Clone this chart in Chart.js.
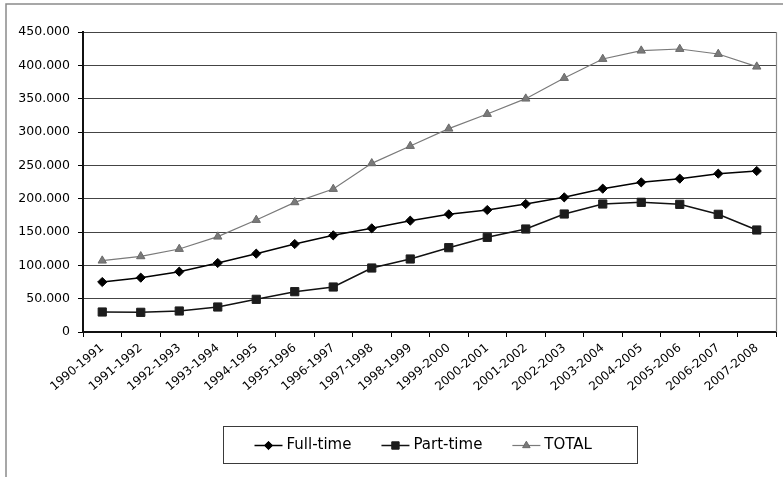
<!DOCTYPE html>
<html>
<head>
<meta charset="utf-8">
<script src="https://cdn.jsdelivr.net/npm/chart.js@4/dist/chart.umd.min.js"></script>
<style>
  html, body { margin: 0; padding: 0; background: #fff; }
  #wrap { width: 783px; height: 477px; position: relative; }
</style>
</head>
<body>
<div id="wrap"><canvas id="chart" width="783" height="477"></canvas></div>
<script>
// Academic years
const years = ['1990-1991', '1991-1992', '1992-1993', '1993-1994', '1994-1995', '1995-1996',
  '1996-1997', '1997-1998', '1998-1999', '1999-2000', '2000-2001', '2001-2002',
  '2002-2003', '2003-2004', '2004-2005', '2005-2006', '2006-2007', '2007-2008'];

// Enrolment counts per year
const fullTime = [75000, 81500, 90500, 103500, 117500, 132000, 145000, 155500, 167000,
  176500, 183000, 192000, 202000, 215000, 224500, 230000, 237500, 241500];
const partTime = [30000, 29500, 31500, 37500, 49000, 60500, 67500, 96000, 109500,
  126500, 142000, 154500, 177000, 192000, 194500, 191500, 176500, 153000];
const total = [107000, 113500, 124500, 143000, 168000, 194500, 214500, 253000, 279000,
  305000, 327000, 350000, 381000, 409500, 422000, 424500, 417000, 398000];

// Value axis range
const yMin = 0;
const yMax = 450000;
const yStep = 50000;

const seriesNames = ['Full-time', 'Part-time', 'TOTAL'];

const FONT = 'DejaVu Sans';

function fmtThousands(v) {
  return String(v).replace(/\B(?=(\d{3})+(?!\d))/g, '.');
}

// Marker drawing shared by the custom legend
function drawMarker(ctx, style, x, y, r, fill, stroke) {
  ctx.save();
  ctx.fillStyle = fill;
  ctx.strokeStyle = stroke;
  ctx.lineWidth = 1;
  ctx.beginPath();
  if (style === 'rectRot') {
    ctx.moveTo(x, y - r); ctx.lineTo(x + r, y); ctx.lineTo(x, y + r); ctx.lineTo(x - r, y);
  } else if (style === 'rect') {
    const s = r * Math.SQRT1_2;
    ctx.rect(x - s, y - s, 2 * s, 2 * s);
  } else if (style === 'triangle') {
    const w = r * Math.sin(Math.PI / 3);
    ctx.moveTo(x, y - r); ctx.lineTo(x + w, y + r / 2); ctx.lineTo(x - w, y + r / 2);
  }
  ctx.closePath();
  ctx.fill();
  ctx.stroke();
  ctx.restore();
}

// Outer frame, plot border and boxed legend
const decorations = {
  id: 'decorations',
  beforeDraw(chart) {
    const ctx = chart.ctx;
    ctx.save();
    ctx.fillStyle = '#fff';
    ctx.fillRect(0, 0, chart.width, chart.height);
    ctx.strokeStyle = '#8a8a8a';
    ctx.lineWidth = 1.5;
    ctx.beginPath();
    ctx.moveTo(6, chart.height);
    ctx.lineTo(6, 4);
    ctx.lineTo(chart.width, 4);
    ctx.stroke();
    ctx.restore();
  },
  afterDraw(chart) {
    const ctx = chart.ctx;
    const a = chart.chartArea;
    ctx.save();
    // right edge of plot area
    ctx.strokeStyle = '#8a8a8a';
    ctx.lineWidth = 1.2;
    ctx.beginPath();
    ctx.moveTo(a.right + 0.5, a.top);
    ctx.lineTo(a.right + 0.5, a.bottom);
    ctx.stroke();

    // legend box
    const bx = 223.5, by = 426.5, bw = 414, bh = 37;
    ctx.fillStyle = '#fff';
    ctx.fillRect(bx, by, bw, bh);
    ctx.strokeStyle = '#3a3a3a';
    ctx.lineWidth = 1;
    ctx.strokeRect(bx, by, bw, bh);

    ctx.font = '15px "' + FONT + '"';
    ctx.textBaseline = 'middle';
    ctx.textAlign = 'left';
    const cy = by + bh / 2 + 0.5;
    let x = bx + 31;
    chart.data.datasets.forEach((ds) => {
      ctx.strokeStyle = ds.borderColor;
      ctx.lineWidth = ds.borderWidth;
      ctx.beginPath();
      ctx.moveTo(x, cy);
      ctx.lineTo(x + 28, cy);
      ctx.stroke();
      drawMarker(ctx, ds.pointStyle, x + 14, cy, ds.pointRadius * 0.9, ds.pointBackgroundColor, ds.pointBorderColor);
      ctx.fillStyle = '#000';
      ctx.fillText(ds.label, x + 32, cy);
      x += 32 + ctx.measureText(ds.label).width + 30;
    });
    ctx.restore();
  }
};

new Chart(document.getElementById('chart'), {
  type: 'line',
  data: {
    labels: years,
    datasets: [
      {
        label: seriesNames[0], data: fullTime,
        borderColor: '#000', borderWidth: 1.5,
        pointStyle: 'rectRot', pointRadius: 4.6,
        pointBackgroundColor: '#000', pointBorderColor: '#000', pointBorderWidth: 1,
        tension: 0, order: 3
      },
      {
        label: seriesNames[1], data: partTime,
        borderColor: '#111', borderWidth: 1.5,
        pointStyle: 'rect', pointRadius: 5.8,
        pointBackgroundColor: '#1c1c1c', pointBorderColor: '#1c1c1c', pointBorderWidth: 1,
        tension: 0, order: 2
      },
      {
        label: seriesNames[2], data: total,
        borderColor: '#7a7a7a', borderWidth: 1.2,
        pointStyle: 'triangle', pointRadius: 4.8,
        pointBackgroundColor: '#7a7a7a', pointBorderColor: '#6a6a6a', pointBorderWidth: 1,
        tension: 0, order: 1
      }
    ]
  },
  options: {
    responsive: false,
    animation: false,
    events: [],
    layout: { padding: { left: 0, right: 7, top: 32, bottom: 0 } },
    plugins: { legend: { display: false }, tooltip: { enabled: false } },
    scales: {
      x: {
        offset: true,
        grid: { offset: true, drawOnChartArea: false, drawTicks: true, tickLength: 5, color: '#000', lineWidth: 1 },
        border: { color: '#111', width: 2 },
        ticks: {
          autoSkip: false, minRotation: 40, maxRotation: 40, padding: 4,
          color: '#000', font: { family: FONT, size: 12 }
        },
        afterFit(scale) { scale.height = 145; }
      },
      y: {
        min: yMin, max: yMax,
        grid: { color: '#444', lineWidth: 1, drawTicks: true, tickLength: 5, tickColor: '#000' },
        border: { color: '#111', width: 2 },
        ticks: {
          stepSize: yStep, padding: 8, color: '#000',
          font: { family: FONT, size: 12.5 },
          callback: (v) => fmtThousands(v)
        },
        afterFit(scale) { scale.width = 83; }
      }
    }
  },
  plugins: [decorations]
});
</script>
</body>
</html>
